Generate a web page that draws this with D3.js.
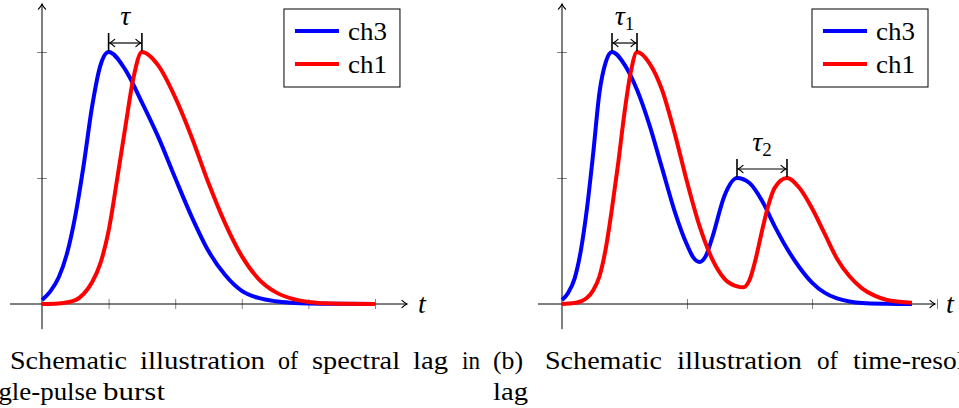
<!DOCTYPE html>
<html>
<head>
<meta charset="utf-8">
<script src="https://cdn.jsdelivr.net/npm/d3@7"></script>
<style>
  body { margin: 0; background: #fff; }
</style>
</head>
<body>
<svg id="chart" width="959" height="408" font-family="Liberation Serif, DejaVu Serif, Noto Serif, Times New Roman, serif"></svg>
<script>
// ---- data ----
// panel (a): single pulse
const tA_ch3 = [0, 0.125, 0.25, 0.375, 0.5, 0.625, 0.75, 0.875, 1.0, 1.25, 1.5, 1.75, 2.0, 2.25, 2.5, 2.75, 3.0, 3.25, 3.5, 3.75, 4.0, 4.5, 5.0];
const vA_ch3 = [0.016, 0.05, 0.105, 0.2, 0.35, 0.55, 0.78, 0.945, 1.0, 0.93, 0.80, 0.66, 0.50, 0.345, 0.21, 0.115, 0.052, 0.024, 0.011, 0.005, 0.002, 0.0005, 0];
const tA_ch1 = [0, 0.25, 0.5, 0.625, 0.75, 0.875, 1.0, 1.125, 1.25, 1.375, 1.5, 1.75, 2.0, 2.25, 2.5, 2.75, 3.0, 3.25, 3.5, 3.75, 4.0, 4.25, 4.5, 5.0];
const vA_ch1 = [0, 0.002, 0.015, 0.04, 0.085, 0.16, 0.29, 0.49, 0.70, 0.90, 1.0, 0.945, 0.82, 0.66, 0.48, 0.32, 0.19, 0.10, 0.048, 0.021, 0.008, 0.003, 0.001, 0];

// panel (b): two pulses
const tB_ch3 = [0, 0.125, 0.25, 0.375, 0.5, 0.625, 0.75, 0.875, 1.0, 1.25, 1.5, 1.75, 2.0, 2.25, 2.5, 2.625, 2.75, 2.875, 3.0, 3.25, 3.5, 3.75, 4.0, 4.25, 4.5, 4.75, 5.0, 5.25, 5.5, 5.75, 6.0, 6.5, 7.0];
const vB_ch3 = [0.016, 0.045, 0.10, 0.21, 0.38, 0.60, 0.84, 0.96, 1.0, 0.95, 0.85, 0.71, 0.54, 0.37, 0.235, 0.185, 0.167, 0.19, 0.26, 0.43, 0.50, 0.48, 0.41, 0.31, 0.22, 0.145, 0.085, 0.045, 0.022, 0.01, 0.004, 0.001, 0];
const tB_ch1 = [0, 0.25, 0.5, 0.625, 0.75, 0.875, 1.0, 1.125, 1.25, 1.375, 1.5, 1.75, 2.0, 2.25, 2.5, 2.75, 3.0, 3.25, 3.5, 3.625, 3.75, 3.875, 4.0, 4.125, 4.25, 4.5, 4.75, 5.0, 5.25, 5.5, 5.75, 6.0, 6.25, 6.5, 6.75, 7.0];
const vB_ch1 = [0, 0.004, 0.025, 0.055, 0.11, 0.22, 0.38, 0.56, 0.76, 0.92, 1.0, 0.955, 0.85, 0.68, 0.485, 0.31, 0.18, 0.10, 0.07, 0.066, 0.095, 0.18, 0.29, 0.39, 0.46, 0.50, 0.46, 0.38, 0.28, 0.18, 0.11, 0.062, 0.033, 0.016, 0.009, 0.005];

const seriesNames = ["ch3", "ch1"];
const xTicksA = [1, 2, 3, 4, 5];
const xTicksB = [2.5, 5, 7.5];
const yTicks = [0.5, 1];

// windows in which the lag between the two peaks is marked
const lagWindowsA = [[0, 2.5]];
const lagWindowsB = [[0, 2.5], [3, 7]];
const lagLabelsA = [["τ", ""]];
const lagLabelsB = [["τ", "1"], ["τ", "2"]];

const captionA = [["(a)", "Schematic", "illustration", "of", "spectral", "lag", "in"], ["single-pulse", "burst"]];
const captionB = [["(b)", "Schematic", "illustration", "of", "time-resolved", "spectral"], ["lag"]];

// ---- layout ----
const FONT = "Liberation Serif, DejaVu Serif, Noto Serif, Times New Roman, serif";
const colors = { ch3: "#0000ff", ch1: "#ff0000" };
const svg = d3.select("#chart");

const defs = svg.append("defs");
defs.append("marker")
  .attr("id", "tip")
  .attr("viewBox", "-7 -5 9 10")
  .attr("markerWidth", 9)
  .attr("markerHeight", 10)
  .attr("markerUnits", "userSpaceOnUse")
  .attr("refX", 0)
  .attr("refY", 0)
  .attr("orient", "auto-start-reverse")
  .append("path")
  .attr("d", "M-5,-3.6 Q-2,-0.8 0,0 Q-2,0.8 -5,3.6")
  .attr("fill", "none")
  .attr("stroke", "#000")
  .attr("stroke-width", 1.2)
  .attr("stroke-linecap", "round");

function zip(ts, vs) {
  return ts.map((t, i) => ({ t, v: vs[i] }));
}

function drawPanel(cfg) {
  const g = svg.append("g").attr("font-family", FONT);
  const x = d3.scaleLinear().domain(cfg.xDomain).range(cfg.xRange);
  const y = d3.scaleLinear().domain([0, 1]).range([304, 52]);
  const x0 = x(0), y0 = y(0);

  // ticks
  const ax = g.append("g")
    .attr("transform", `translate(0,${y0 - 5})`)
    .call(d3.axisBottom(x).tickValues(cfg.xTicks).tickSize(10).tickFormat(""));
  const ay = g.append("g")
    .attr("transform", `translate(${x0 + 5},0)`)
    .call(d3.axisLeft(y).tickValues(yTicks).tickSize(10).tickFormat(""));
  [ax, ay].forEach(a => {
    a.select(".domain").remove();
    a.selectAll("line").attr("stroke", "#666").attr("stroke-width", 0.8);
  });

  // axis lines with arrows
  g.append("line")
    .attr("x1", x(cfg.xExtent[0])).attr("x2", x(cfg.xExtent[1]))
    .attr("y1", y0).attr("y2", y0)
    .attr("stroke", "#000").attr("stroke-width", 1)
    .attr("marker-end", "url(#tip)");
  g.append("line")
    .attr("x1", x0).attr("x2", x0)
    .attr("y1", y(-0.1)).attr("y2", y(1.19))
    .attr("stroke", "#000").attr("stroke-width", 1)
    .attr("marker-end", "url(#tip)");
  g.append("text")
    .attr("x", x(cfg.xExtent[1]) + 11)
    .attr("y", y0 + 9)
    .attr("font-family", FONT)
    .attr("font-size", 28)
    .attr("font-style", "italic")
    .text("t");

  // curves
  const line = d3.line()
    .x(d => x(d.t))
    .y(d => y(d.v))
    .curve(d3.curveMonotoneX);
  cfg.series.forEach((s, i) => {
    g.append("path")
      .datum(s)
      .attr("d", line)
      .attr("fill", "none")
      .attr("stroke", colors[seriesNames[i]])
      .attr("stroke-width", 4);
  });

  // lag annotations between peaks
  cfg.lagWindows.forEach((w, k) => {
    const peaks = cfg.series.map(s => {
      const sub = s.filter(d => d.t >= w[0] && d.t <= w[1]);
      return sub[d3.maxIndex(sub, d => d.v)];
    });
    const px = peaks.map(p => x(p.t));
    const py = peaks.map(p => y(p.v));
    const ly = d3.min(py) - 9;
    px.forEach((xx, i) => {
      g.append("line")
        .attr("x1", xx).attr("x2", xx)
        .attr("y1", ly - 10).attr("y2", py[i] - 1)
        .attr("stroke", "#000").attr("stroke-width", 1.6);
    });
    g.append("line")
      .attr("x1", px[0] + 1).attr("x2", px[1] - 1)
      .attr("y1", ly).attr("y2", ly)
      .attr("stroke", "#000").attr("stroke-width", 1.2)
      .attr("marker-start", "url(#tip)")
      .attr("marker-end", "url(#tip)");
    const lab = g.append("text")
      .attr("x", (px[0] + px[1]) / 2)
      .attr("y", ly - 18)
      .attr("text-anchor", "middle")
      .attr("font-family", FONT)
      .attr("font-size", 28);
    lab.append("tspan").attr("font-style", "italic").text(cfg.lagLabels[k][0]);
    if (cfg.lagLabels[k][1]) {
      lab.append("tspan").attr("font-size", 19).attr("dy", 5).text(cfg.lagLabels[k][1]);
    }
  });

  // legend
  const bx = x(cfg.xExtent[1]) - 123;
  const lg = g.append("g").attr("transform", `translate(${bx},9)`);
  lg.append("rect")
    .attr("width", 116).attr("height", 78)
    .attr("fill", "#fff").attr("stroke", "#000").attr("stroke-width", 1);
  seriesNames.forEach((name, i) => {
    lg.append("line")
      .attr("x1", 11).attr("x2", 55)
      .attr("y1", 22 + i * 33).attr("y2", 22 + i * 33)
      .attr("stroke", colors[name]).attr("stroke-width", 4);
    lg.append("text")
      .attr("x", 64).attr("y", 31 + i * 33)
      .attr("font-family", FONT)
      .attr("font-size", 26)
      .attr("textLength", 39)
      .attr("lengthAdjust", "spacingAndGlyphs")
      .text(name);
  });

  // caption, justified by hand: each word placed at [x, width]
  cfg.caption.forEach((words, li) => {
    const pos = cfg.captionPos[li];
    words.forEach((w, wi) => {
      g.append("text")
        .attr("x", pos[wi][0])
        .attr("y", 369 + li * 31)
        .attr("font-family", FONT)
        .attr("font-size", 26)
        .attr("textLength", pos[wi][1])
        .attr("lengthAdjust", "spacingAndGlyphs")
        .text(w);
    });
  });
}

drawPanel({
  xDomain: [0, 5], xRange: [42, 375], xExtent: [-0.48, 5.48],
  xTicks: xTicksA,
  series: [zip(tA_ch3, vA_ch3), zip(tA_ch1, vA_ch1)],
  lagWindows: lagWindowsA, lagLabels: lagLabelsA,
  caption: captionA,
  captionPos: [
    [[-33, 33], [10, 117], [140, 125], [278, 20], [312, 88], [413, 35], [462, 18]],
    [[-33, 130], [103, 62]]
  ]
});

drawPanel({
  xDomain: [0, 7], xRange: [562, 912], xExtent: [-0.48, 7.46],
  xTicks: xTicksB,
  series: [zip(tB_ch3, vB_ch3), zip(tB_ch1, vB_ch1)],
  lagWindows: lagWindowsB, lagLabels: lagLabelsB,
  caption: captionB,
  captionPos: [
    [[493, 30], [545, 117], [677, 125], [817, 21], [853, 151], [1019, 88]],
    [[493, 35]]
  ]
});
</script>
</body>
</html>
